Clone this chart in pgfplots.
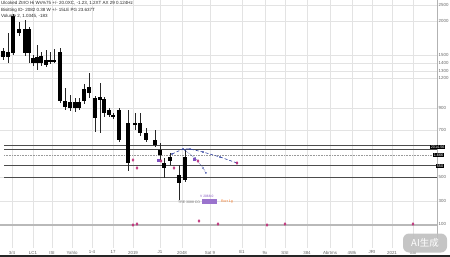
\documentclass[border=0pt]{standalone}
\usepackage{pgfplots}
\pgfplotsset{compat=1.18}
\usepackage{fontspec}
\setmainfont{Liberation Sans}
\newfontfamily\cjk{Noto Sans CJK SC}
\definecolor{mag}{HTML}{C0307A}
\definecolor{navy}{HTML}{3040A0}
\definecolor{purp}{HTML}{8050C0}
\begin{document}
\begin{tikzpicture}
\path[use as bounding box] (0,0) rectangle (450pt,257pt);
\begin{axis}[
  at={(218.5pt,133pt)}, anchor=center,
  scale only axis, width=437pt, height=248pt,
  xmin=0, xmax=437, ymin=0, ymax=248, y dir=reverse,
  clip=false,
  axis line style={draw=none},
  tick style={draw=none},
  grid=major, grid style={gray!22, line width=0.5pt},
  xtick={12,33,52,72,92,113,133,160,182,210,242,265,285,307,330,352,372,392,413},
  xticklabels={3/4,LC1,ISI,Yahlo,1-4,17,2019,J1,2048,Sat 9,E1,9x,SSI,384,Abrtms,4Wk,JRI,2021,Shl},
  ytick={5,21,55,63,71,78,108,130,177,201,224},
  yticklabels={2500,2000,1500,1400,1300,1200,900,700,500,300,100},
  yticklabel pos=right,
  tick label style={font=\fontsize{4.4}{4.4}\selectfont, text=black!60},
  yticklabel style={xshift=-1.8pt},
  xticklabel style={yshift=0.6pt},
  /pgf/number format/assume math mode=true,
]
% horizontal level lines
\addplot[black!70, line width=0.6pt] coordinates {(4,145) (437,145)};
\addplot[black!70, line width=0.6pt] coordinates {(4,149) (437,149)};
\addplot[gray!80, line width=0.6pt, densely dotted] coordinates {(4,155) (437,155)};
\addplot[black!70, line width=0.6pt] coordinates {(4,165) (437,165)};
\addplot[black!70, line width=0.6pt] coordinates {(4,177) (437,177)};
% bottom indicator line
\addplot[gray!55, line width=1.1pt] coordinates {(0,225) (437,225)};
% wicks
\addplot[black!85, line width=0.5pt, unbounded coords=jump] table[row sep=\\] {
x y\\
3 48\\ 3 60\\ 3 nan\\
8 33\\ 8 63\\ 8 nan\\
13 14\\ 13 55\\ 13 nan\\
19 22\\ 19 36\\ 19 nan\\
25 20\\ 25 56\\ 25 nan\\
29 27\\ 29 63\\ 29 nan\\
33 55\\ 33 66\\ 33 nan\\
37 45\\ 37 70\\ 37 nan\\
41 52\\ 41 66\\ 41 nan\\
46 50\\ 46 67\\ 46 nan\\
50 52\\ 50 64\\ 50 nan\\
54 49\\ 54 63\\ 54 nan\\
60 48\\ 60 103\\ 60 nan\\
65 88\\ 65 110\\ 65 nan\\
70 95\\ 70 111\\ 70 nan\\
75 98\\ 75 112\\ 75 nan\\
79 98\\ 79 110\\ 79 nan\\
84 84\\ 84 104\\ 84 nan\\
89 73\\ 89 98\\ 89 nan\\
95 96\\ 95 132\\ 95 nan\\
100 83\\ 100 133\\ 100 nan\\
104 97\\ 104 117\\ 104 nan\\
109 108\\ 109 117\\ 109 nan\\
113 113\\ 113 119\\ 113 nan\\
119 108\\ 119 142\\ 119 nan\\
128 110\\ 128 171\\ 128 nan\\
135 113\\ 135 130\\ 135 nan\\
140 113\\ 140 136\\ 140 nan\\
146 128\\ 146 142\\ 146 nan\\
155 130\\ 155 147\\ 155 nan\\
160 143\\ 160 160\\ 160 nan\\
164 158\\ 164 178\\ 164 nan\\
170 153\\ 170 165\\ 170 nan\\
179 165\\ 179 200\\ 179 nan\\
185 150\\ 185 182\\
};
% bodies
\addplot[black, line width=4.2pt, unbounded coords=jump] table[row sep=\\] {
x y\\
3 51\\ 3 57\\ 3 nan\\
8 52\\ 8 57\\ 8 nan\\
13 16\\ 13 53\\ 13 nan\\
19 29\\ 19 33\\ 19 nan\\
25 29\\ 25 53\\ 25 nan\\
29 29\\ 29 53\\ 29 nan\\
33 58\\ 33 63\\ 33 nan\\
37 57\\ 37 63\\ 37 nan\\
41 56\\ 41 63\\ 41 nan\\
46 60\\ 46 65\\ 46 nan\\
50 60\\ 50 62\\ 50 nan\\
54 60\\ 54 62\\ 54 nan\\
60 52\\ 60 101\\ 60 nan\\
65 101\\ 65 107\\ 65 nan\\
70 102\\ 70 108\\ 70 nan\\
75 102\\ 75 108\\ 75 nan\\
79 102\\ 79 108\\ 79 nan\\
84 89\\ 84 101\\ 84 nan\\
89 87\\ 89 93\\ 89 nan\\
95 98\\ 95 118\\ 95 nan\\
100 97\\ 100 100\\ 100 nan\\
104 99\\ 104 113\\ 104 nan\\
109 110\\ 109 115\\ 109 nan\\
113 115\\ 113 117\\ 113 nan\\
119 110\\ 119 140\\ 119 nan\\
128 123\\ 128 163\\ 128 nan\\
135 123\\ 135 124.5\\ 135 nan\\
140 123\\ 140 133\\ 140 nan\\
146 133\\ 146 140\\ 146 nan\\
155 140\\ 155 145\\ 155 nan\\
160 150\\ 160 155\\ 160 nan\\
164 163\\ 164 168\\ 164 nan\\
170 157\\ 170 161\\ 170 nan\\
179 175\\ 179 183\\ 179 nan\\
185 157\\ 185 180\\
};
% projection lines
\addplot[navy, densely dashed, line width=0.6pt, mark=*, mark size=0.55pt, mark options={solid}]
  coordinates {(172,154) (183,149) (190,149) (203,152) (220,157) (237,163)};
\addplot[navy, densely dotted, line width=0.6pt, mark=*, mark size=0.55pt]
  coordinates {(185,150) (195,158) (203,168) (206,173)};
% markers
\addplot[only marks, mark=diamond*, mark size=1.4pt, color=mag]
  coordinates {(133,160) (137,168) (161,161) (174,168) (198,161) (237,163)};
\addplot[only marks, mark=square*, mark size=1.1pt, color=purp]
  coordinates {(158,160) (194,159)};
\addplot[only marks, mark=diamond*, mark size=1.4pt, color=mag]
  coordinates {(133,225) (137,224) (199,221) (218,224) (267,225) (285,224) (413,224)};
% right border
\draw[gray!60, line width=0.5pt] (axis cs:437,0) -- (axis cs:437,248);
% price tags
\node[anchor=west, fill=black, text=white, inner sep=0.6pt, font=\fontsize{3.8}{3.8}\selectfont] at (axis cs:430,147) {2014.56};
\node[anchor=west, fill=black, text=white, inner sep=0.6pt, font=\fontsize{3.8}{3.8}\selectfont] at (axis cs:433,155) {1.666};
\node[anchor=west, fill=black, text=white, inner sep=0.6pt, font=\fontsize{3.8}{3.8}\selectfont] at (axis cs:436,166) {550};
% header text
\node[anchor=north west, inner sep=0pt, align=left, text=black!85, font=\fontsize{4.5}{6.6}\selectfont]
  at (axis cs:1,1) {Ulcoked ZtrIO Hi Ws\%75 +/- 20.0XC, -1.23, 1.2XT AX 29 0.124Hz\\
  Bisitting ID- 2082 0.38 W +/- 15LE PG 23.637T\\
  Volume 2, 1.0345, -183};
% small legend near volume
\node[anchor=west, inner sep=0pt, text=black!55, font=\fontsize{3.5}{3.5}\selectfont] at (axis cs:178,202) {TRE 3088 CO};
\fill[purp!80] (axis cs:202,199) rectangle (axis cs:217,203.5);
\node[anchor=west, inner sep=0pt, text=purp, font=\fontsize{3.3}{3.3}\selectfont] at (axis cs:200,196.5) {V 2068.0};
\node[anchor=west, inner sep=0pt, text=orange!80!mag, font=\fontsize{3.5}{3.5}\selectfont] at (axis cs:221,202) {Rorr 1g};
% watermark
\node[fill=gray!50, fill opacity=0.9, text opacity=1, rounded corners=6pt, text=white, inner sep=0pt,
  minimum width=44pt, minimum height=19pt, font=\cjk\fontsize{9.5}{9.5}\selectfont] at (axis cs:425,243) {AI生成};
\end{axis}
\fill[black!85] (0,0) rectangle (450pt,1.6pt);
\end{tikzpicture}
\end{document}
